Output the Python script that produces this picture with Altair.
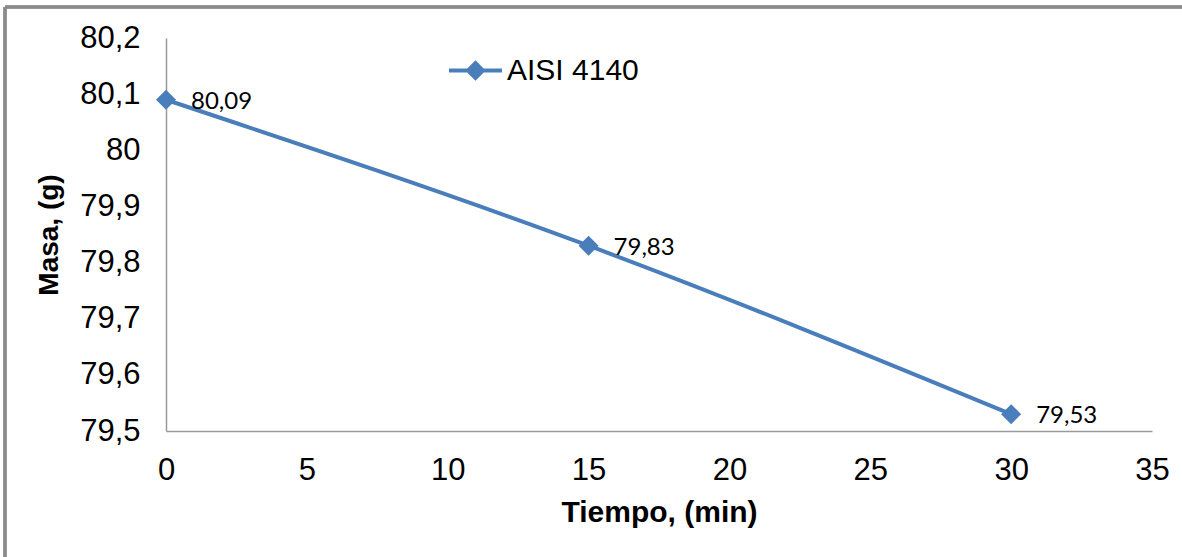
import altair as alt
import pandas as pd

tiempo = [0, 15, 30]
masa = [80.09, 79.83, 79.53]
serie = ["AISI 4140"] * 3
y_ticks = [79.5, 79.6, 79.7, 79.8, 79.9, 80.0, 80.1, 80.2]
x_ticks = [0, 5, 10, 15, 20, 25, 30, 35]

df = pd.DataFrame({"Tiempo": tiempo, "Masa": masa, "Serie": serie})

BLUE = "#4a7ebb"
W, H = 986, 393

base = alt.Chart(df).encode(
    x=alt.X("Tiempo:Q",
            scale=alt.Scale(domain=[0, 35], nice=False, zero=False),
            axis=alt.Axis(values=x_ticks, title="Tiempo, (min)", grid=False,
                          ticks=False, domain=True, domainColor="#9a9a9a", domainWidth=1.5,
                          labelFont="Liberation Sans", labelFontSize=31, labelColor="#000",
                          labelPadding=24, labelFlush=False,
                          titleFont="Liberation Sans", titleFontSize=30, titleFontWeight="bold",
                          titleColor="#000", titlePadding=12)),
    y=alt.Y("Masa:Q",
            scale=alt.Scale(domain=[79.5, 80.2], nice=False, zero=False),
            axis=alt.Axis(values=y_ticks, title="Masa, (g)", grid=False,
                          ticks=False, domain=True, domainColor="#9a9a9a", domainWidth=1.5,
                          labelFont="Liberation Sans", labelFontSize=31, labelColor="#000",
                          labelPadding=26, labelFlush=False,
                          labelExpr="replace(format(datum.value, '~g'), '.', ',')",
                          titleFont="Liberation Sans", titleFontSize=28, titleFontWeight="bold",
                          titleColor="#000", titlePadding=16)),
)

line = base.mark_line(color=BLUE, strokeWidth=4, interpolate="monotone").encode(
    color=alt.Color("Serie:N",
                    scale=alt.Scale(range=[BLUE]),
                    legend=alt.Legend(
                        title=None, orient="none", legendX=281, legendY=4,
                        symbolType="M-1,0L1,0M0,-0.28L0.28,0L0,0.28L-0.28,0Z",
                        symbolSize=2809, symbolStrokeWidth=4,
                        symbolFillColor=BLUE, symbolStrokeColor=BLUE,
                        labelFont="Liberation Sans", labelFontSize=30, labelColor="#000",
                        labelOffset=3, padding=0))
)

points = base.mark_point(shape="diamond", filled=True, size=400, color=BLUE, opacity=1)

labels = base.transform_calculate(
    lab="replace(format(datum.Masa, '.2f'), '.', ',')"
).mark_text(align="left", baseline="middle", dx=25, dy=2,
            font="Lato", fontSize=24, color="#000").encode(text="lab:N")

frame_top = alt.Chart(df).mark_rule(color="#8a8a8a", strokeWidth=3).encode(
    x=alt.value(-161), x2=alt.value(1182), y=alt.value(-31))
frame_left = alt.Chart(df).mark_rule(color="#8a8a8a", strokeWidth=3).encode(
    x=alt.value(-161), y=alt.value(-31), y2=alt.value(540))

chart = alt.layer(frame_top, frame_left, line, points, labels).properties(
    width=W, height=H,
    autosize=alt.AutoSizeParams(type="none"),
    padding={"left": 166, "top": 38, "right": 30, "bottom": 126},
    background="white",
).configure_view(stroke=None)

chart.save("out.html", embed_options={"renderer": "svg", "actions": False})
